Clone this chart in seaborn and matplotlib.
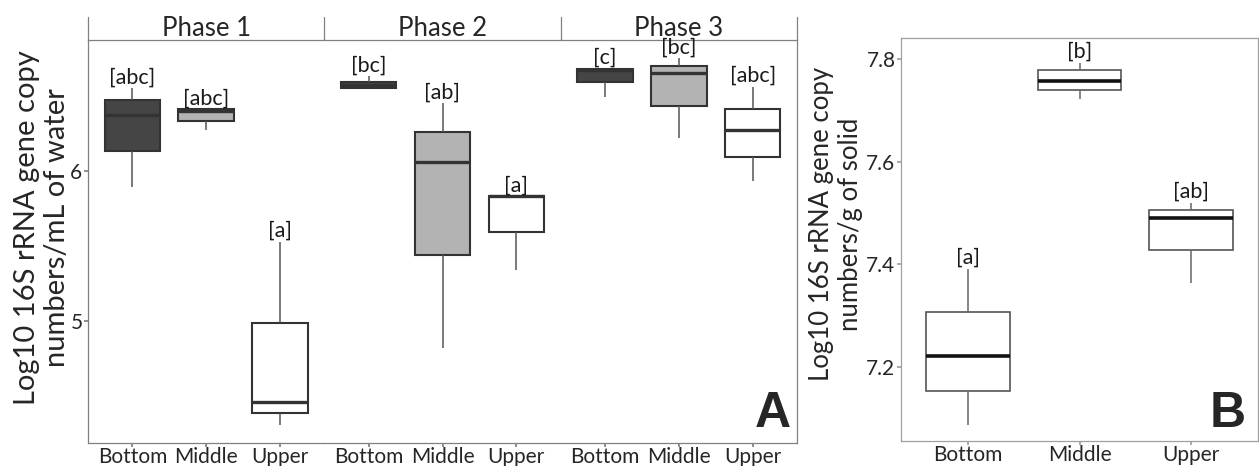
import numpy as np
import pandas as pd
import matplotlib
matplotlib.use("Agg")
import matplotlib.pyplot as plt
import seaborn as sns

phases = ["Phase 1", "Phase 2", "Phase 3"]
positions = ["Bottom", "Middle", "Upper"]

# panel A: water, one box per (phase, position), phase-major order
water_min = [5.89, 6.27, 4.31, 6.55, 4.82, 5.34, 6.49, 6.22, 5.93]
water_q1 = [6.13, 6.33, 4.39, 6.55, 5.44, 5.59, 6.59, 6.43, 6.09]
water_med = [6.37, 6.40, 4.46, 6.57, 6.06, 5.83, 6.67, 6.65, 6.27]
water_q3 = [6.47, 6.41, 4.99, 6.59, 6.26, 5.83, 6.68, 6.70, 6.41]
water_max = [6.55, 6.41, 5.53, 6.63, 6.45, 5.83, 6.68, 6.75, 6.56]
water_letters = ["[abc]", "[abc]", "[a]", "[bc]", "[ab]", "[a]", "[c]", "[bc]", "[abc]"]

# panel B: solid
solid_min = [7.087, 7.722, 7.363]
solid_q1 = [7.153, 7.740, 7.429]
solid_med = [7.221, 7.757, 7.491]
solid_q3 = [7.307, 7.779, 7.505]
solid_max = [7.392, 7.792, 7.520]
solid_letters = ["[a]", "[b]", "[ab]"]

rows = []
k = 0
for ph in phases:
    for pos in positions:
        for v in (water_min[k], water_q1[k], water_med[k], water_q3[k], water_max[k]):
            rows.append({"phase": ph, "position": pos, "value": v})
        k += 1
water = pd.DataFrame(rows)

rows = []
for i, pos in enumerate(positions):
    for v in (solid_min[i], solid_q1[i], solid_med[i], solid_q3[i], solid_max[i]):
        rows.append({"position": pos, "value": v})
solid = pd.DataFrame(rows)

sns.set_theme(style="ticks")
plt.rcParams['font.family'] = ['Lato', 'DejaVu Sans']

W, H = 1259, 466
fig = plt.figure(figsize=(W / 100, H / 100), dpi=100)

fills = {"Bottom": "#454545", "Middle": "#b3b3b3", "Upper": "#ffffff"}
frame = "#808080"

# ---- panel A: three facets, no spacing
left, right, top, bottom = 88, 797, 40, 443
pw = (right - left) / 3
axes = []
for j, ph in enumerate(phases):
    ax = fig.add_axes([(left + j * pw) / W, 1 - bottom / H, pw / W, (bottom - top) / H])
    axes.append(ax)
    sub = water[water.phase == ph]
    sns.boxplot(data=sub, x="position", y="value", hue="position", order=positions,
                hue_order=positions, palette=fills, saturation=1, width=0.75,
                whis=(0, 100), linecolor="#333333", linewidth=1.5, showcaps=False,
                legend=False, ax=ax,
                medianprops=dict(color="#333333", linewidth=2.4),
                whiskerprops=dict(color="#555555", linewidth=1.1))
    ax.set_xlim(-0.6, 2.6)
    ax.set_ylim(4.187, 6.873)
    ax.set_xlabel("")
    ax.set_ylabel("")
    for i in range(3):
        ax.annotate(water_letters[j * 3 + i], xy=(i, water_max[j * 3 + i]),
                    xytext=(0, 8), textcoords="offset points",
                    ha="center", va="center", fontsize=15.5, color="#1a1a1a")
    for s in ax.spines.values():
        s.set_color(frame)
        s.set_linewidth(0.9)
    ax.spines["left"].set_visible(j == 0)
    ax.spines["right"].set_visible(j == 2)
    ax.tick_params(axis="x", length=3, color=frame, labelsize=15, pad=0)
    if j == 0:
        ax.set_yticks([5, 6])
        ax.tick_params(axis="y", length=3, color=frame, labelsize=15, pad=1)
    else:
        ax.tick_params(axis="y", left=False, labelleft=False)
    # strip
    ax.text(0.5, 1.028, ph, transform=ax.transAxes, ha="center", va="center", fontsize=18.5)
    strip_h = 23 / (bottom - top)
    if j == 0:
        ax.plot([0, 0], [1, 1 + strip_h], transform=ax.transAxes, clip_on=False,
                color=frame, lw=0.9)
    ax.plot([1, 1], [1, 1 + strip_h], transform=ax.transAxes, clip_on=False,
            color=frame, lw=0.9)

fig.text(42 / W, 1 - 228 / H, "Log10 16S rRNA gene copy\nnumbers/mL of water",
         rotation=90, ha="center", va="center", multialignment="center", fontsize=21)
fig.text(773 / W, 1 - 414 / H, "A", fontsize=36, weight="bold", ha="center", va="center",
         family="Liberation Sans")

# ---- panel B
lb, rb, tb, bb = 901, 1258, 38, 441
axb = fig.add_axes([lb / W, 1 - bb / H, (rb - lb) / W, (bb - tb) / H])
sns.boxplot(data=solid, x="position", y="value", color="white", order=positions,
            saturation=1, width=0.75, whis=(0, 100), linecolor="#555555",
            linewidth=1.2, showcaps=False, legend=False, ax=axb,
            medianprops=dict(color="#111111", linewidth=2.6),
            whiskerprops=dict(color="#666666", linewidth=1.1))
axb.set_xlim(-0.6, 2.6)
axb.set_ylim(7.056, 7.841)
axb.set_yticks([7.2, 7.4, 7.6, 7.8])
axb.set_yticklabels(["7.2", "7.4", "7.6", "7.8"])
axb.set_xlabel("")
axb.set_ylabel("")
for i in range(3):
    axb.annotate(solid_letters[i], xy=(i, solid_max[i]), xytext=(0, 8),
                 textcoords="offset points", ha="center", va="center", fontsize=15.5,
                 color="#1a1a1a")
for s in axb.spines.values():
    s.set_color("#a0a0a0")
    s.set_linewidth(0.9)
axb.tick_params(length=3, color="#a0a0a0", labelsize=15, pad=1)
axb.tick_params(axis="x", pad=0)

fig.text(836 / W, 1 - 224 / H, "Log10 16S rRNA gene copy\nnumbers/g of solid",
         rotation=90, ha="center", va="center", multialignment="center", fontsize=18.5)
fig.text(1228 / W, 1 - 414 / H, "B", fontsize=36, weight="bold", ha="center", va="center",
         family="Liberation Sans")

fig.savefig("out.png", dpi=100)
